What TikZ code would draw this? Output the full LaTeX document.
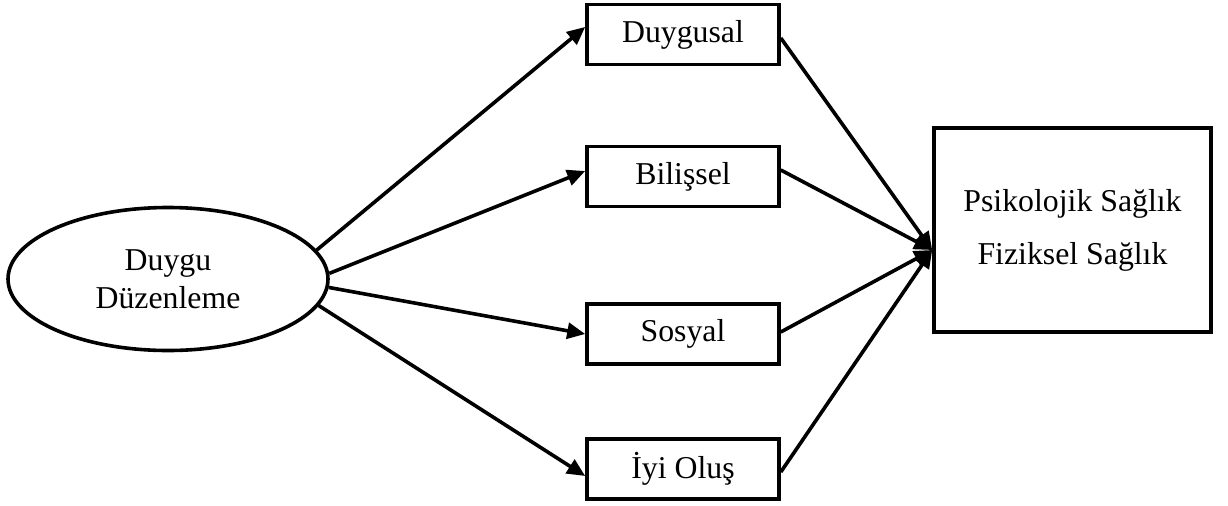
\documentclass[tikz,border=0pt]{standalone}
\usepackage{fontspec}
\setmainfont{Liberation Serif}
\usetikzlibrary{arrows.meta,shapes.geometric}

\tikzset{
  yol/.style={line width=1.8pt,-{Triangle[length=9pt,width=8pt]}},
  kutu/.style={draw,rectangle,line width=1.8pt,minimum width=96pt,minimum height=30pt,inner sep=0pt},
}

\begin{document}
\begin{tikzpicture}[x=0.5pt,y=-0.5pt,font=\fontsize{15.9}{19}\selectfont]

      \useasboundingbox (0,0) rectangle (1228,505);

      \node[draw,ellipse,line width=1.8pt,minimum width=160pt,minimum height=71.5pt,
            align=center,inner sep=0pt] (dd) at (168,279) {Duygu\\Düzenleme};

      \begin{scope}[every node/.style={kutu}]
        \node (duygusal) at (683,34.5) {Duygusal};
        \node (bilissel) at (683,176.5) {Bilişsel};
        \node (sosyal)   at (683,334) {Sosyal};
        \node (iyi)      at (683,469) {İyi Oluş};
      \end{scope}

      \node[draw,rectangle,line width=1.8pt,minimum width=138.5pt,minimum height=102pt,
            align=center,font=\fontsize{15.9}{26.5}\selectfont] (saglik) at (1072.5,230)
            {Psikolojik Sağlık\\Fiziksel Sağlık};

      % duygu duzenleme -> boyutlar
      \draw[yol] (dd.11)  -- ([yshift=3.75pt]duygusal.west);
      \draw[yol] (dd.2)   -- ([yshift=2.75pt]bilissel.west);
      \draw[yol] (dd.-3)  -- (sosyal.west);
      \draw[yol] (dd.-10) -- ([yshift=-3.5pt]iyi.west);

      % boyutlar -> saglik
      \draw[yol] ([yshift=-1.75pt]duygusal.east) -- ([yshift=-10pt]saglik.west);
      \draw[yol] ([yshift=3.25pt]bilissel.east)  -- ([yshift=-10pt]saglik.west);
      \draw[yol] ([yshift=1pt]sosyal.east)       -- ([yshift=-10pt]saglik.west);
      \draw[yol] ([yshift=-1.5pt]iyi.east)       -- ([yshift=-10pt]saglik.west);

\end{tikzpicture}
\end{document}
